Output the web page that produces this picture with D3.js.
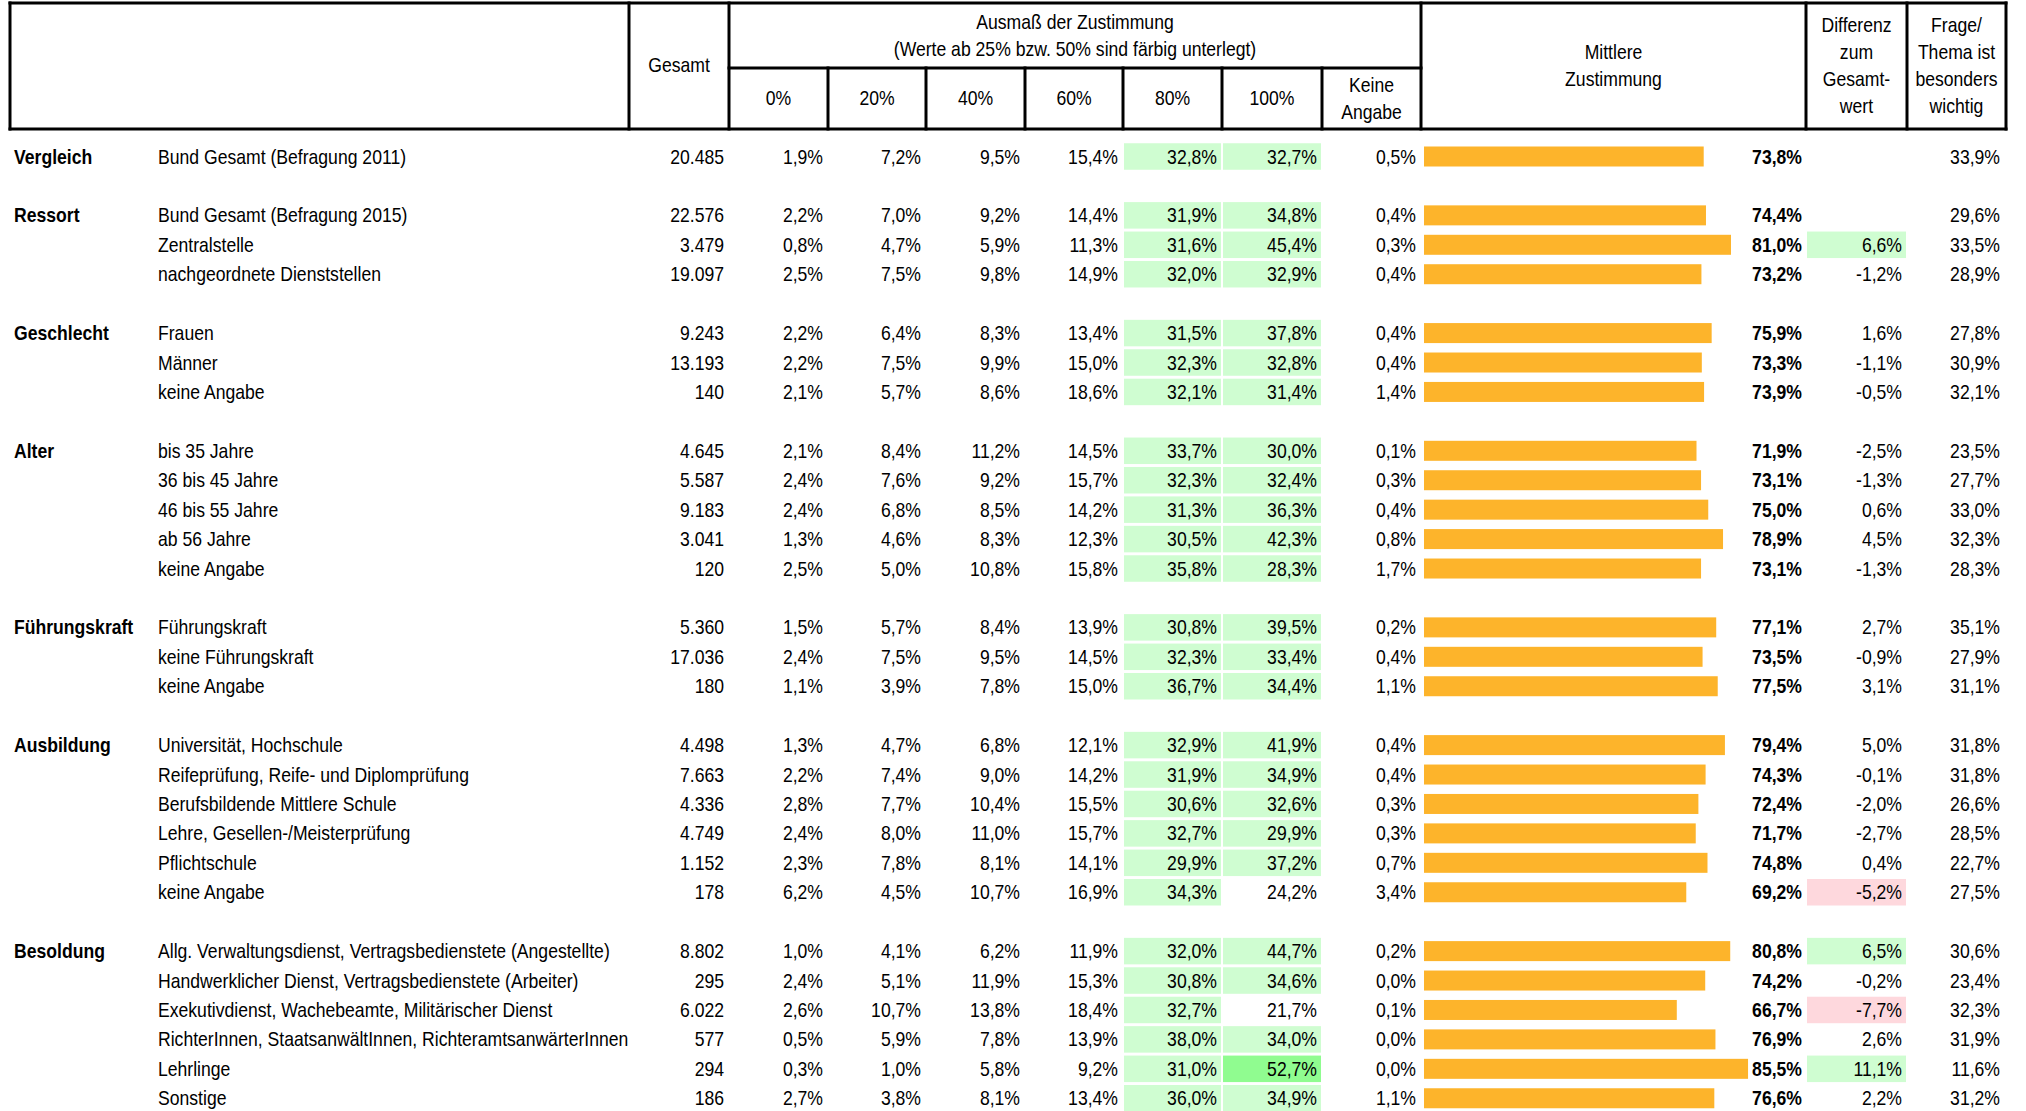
<!DOCTYPE html>
<html>
<head>
<meta charset="utf-8">
<script src="https://cdn.jsdelivr.net/npm/d3@7"></script>
<style>
  body { margin: 0; background: #fff; }
  svg text { font-family: "Liberation Sans", Arial, sans-serif; font-size: 20px; fill: #000; }
</style>
</head>
<body>
<svg id="table"></svg>
<script>
// table data, one entry per row (blank rows between groups are added below)
const groupNames = ["Vergleich", "Ressort", "Geschlecht", "Alter", "Führungskraft", "Ausbildung", "Besoldung"];
const groupSizes = [1, 3, 3, 5, 3, 6, 6];
const rowLabels = [
    "Bund Gesamt (Befragung 2011)",
    "Bund Gesamt (Befragung 2015)", "Zentralstelle", "nachgeordnete Dienststellen",
    "Frauen", "Männer", "keine Angabe",
    "bis 35 Jahre", "36 bis 45 Jahre", "46 bis 55 Jahre", "ab 56 Jahre", "keine Angabe",
    "Führungskraft", "keine Führungskraft", "keine Angabe",
    "Universität, Hochschule", "Reifeprüfung, Reife- und Diplomprüfung", "Berufsbildende Mittlere Schule",
    "Lehre, Gesellen-/Meisterprüfung", "Pflichtschule", "keine Angabe",
    "Allg. Verwaltungsdienst, Vertragsbedienstete (Angestellte)", "Handwerklicher Dienst, Vertragsbedienstete (Arbeiter)",
    "Exekutivdienst, Wachebeamte, Militärischer Dienst", "RichterInnen, StaatsanwältInnen, RichteramtsanwärterInnen",
    "Lehrlinge", "Sonstige"
];
const gesamt = [20485, 22576, 3479, 19097, 9243, 13193, 140, 4645, 5587, 9183, 3041, 120, 5360, 17036, 180,
    4498, 7663, 4336, 4749, 1152, 178, 8802, 295, 6022, 577, 294, 186];
const share0 = [1.9, 2.2, 0.8, 2.5, 2.2, 2.2, 2.1, 2.1, 2.4, 2.4, 1.3, 2.5, 1.5, 2.4, 1.1, 1.3, 2.2, 2.8, 2.4, 2.3, 6.2, 1.0, 2.4, 2.6, 0.5, 0.3, 2.7];
const share20 = [7.2, 7.0, 4.7, 7.5, 6.4, 7.5, 5.7, 8.4, 7.6, 6.8, 4.6, 5.0, 5.7, 7.5, 3.9, 4.7, 7.4, 7.7, 8.0, 7.8, 4.5, 4.1, 5.1, 10.7, 5.9, 1.0, 3.8];
const share40 = [9.5, 9.2, 5.9, 9.8, 8.3, 9.9, 8.6, 11.2, 9.2, 8.5, 8.3, 10.8, 8.4, 9.5, 7.8, 6.8, 9.0, 10.4, 11.0, 8.1, 10.7, 6.2, 11.9, 13.8, 7.8, 5.8, 8.1];
const share60 = [15.4, 14.4, 11.3, 14.9, 13.4, 15.0, 18.6, 14.5, 15.7, 14.2, 12.3, 15.8, 13.9, 14.5, 15.0, 12.1, 14.2, 15.5, 15.7, 14.1, 16.9, 11.9, 15.3, 18.4, 13.9, 9.2, 13.4];
const share80 = [32.8, 31.9, 31.6, 32.0, 31.5, 32.3, 32.1, 33.7, 32.3, 31.3, 30.5, 35.8, 30.8, 32.3, 36.7, 32.9, 31.9, 30.6, 32.7, 29.9, 34.3, 32.0, 30.8, 32.7, 38.0, 31.0, 36.0];
const share100 = [32.7, 34.8, 45.4, 32.9, 37.8, 32.8, 31.4, 30.0, 32.4, 36.3, 42.3, 28.3, 39.5, 33.4, 34.4, 41.9, 34.9, 32.6, 29.9, 37.2, 24.2, 44.7, 34.6, 21.7, 34.0, 52.7, 34.9];
const keineAngabe = [0.5, 0.4, 0.3, 0.4, 0.4, 0.4, 1.4, 0.1, 0.3, 0.4, 0.8, 1.7, 0.2, 0.4, 1.1, 0.4, 0.4, 0.3, 0.3, 0.7, 3.4, 0.2, 0.0, 0.1, 0.0, 0.0, 1.1];
const mittlere = [73.8, 74.4, 81.0, 73.2, 75.9, 73.3, 73.9, 71.9, 73.1, 75.0, 78.9, 73.1, 77.1, 73.5, 77.5, 79.4, 74.3, 72.4, 71.7, 74.8, 69.2, 80.8, 74.2, 66.7, 76.9, 85.5, 76.6];
const differenz = [null, null, 6.6, -1.2, 1.6, -1.1, -0.5, -2.5, -1.3, 0.6, 4.5, -1.3, 2.7, -0.9, 3.1, 5.0, -0.1, -2.0, -2.7, 0.4, -5.2, 6.5, -0.2, -7.7, 2.6, 11.1, 2.2];
const wichtig = [33.9, 29.6, 33.5, 28.9, 27.8, 30.9, 32.1, 23.5, 27.7, 33.0, 32.3, 28.3, 35.1, 27.9, 31.1, 31.8, 31.8, 26.6, 28.5, 22.7, 27.5, 30.6, 23.4, 32.3, 31.9, 11.6, 31.2];
const shareHeaders = ["0%", "20%", "40%", "60%", "80%", "100%"];

var width = 2026, height = 1111;
var sx = 0.88; // text is drawn a bit condensed, like the narrow spreadsheet font
var svg = d3.select("#table").attr("width", width).attr("height", height);

var de = d3.formatLocale({decimal: ",", thousands: ".", grouping: [3], currency: ["", "€"], minus: "-"});
var fmtInt = de.format(",d");
var fmtPct = function(v){ return de.format(".1f")(v) + "%"; };

// column borders
var edges = [10, 629, 729, 828, 926, 1025, 1123, 1222, 1322, 1421, 1806, 1907, 2006];
var headTop = 3, headMid = 68, headBottom = 129;

// build row slots: each group followed by an empty row
var rows = [];
var slot = 0, r = 0;
groupNames.forEach(function(g, gi){
    for (var i = 0; i < groupSizes[gi]; i++) {
        rows.push({
            slot: slot, group: i == 0 ? g : "", label: rowLabels[r], n: gesamt[r],
            shares: [share0[r], share20[r], share40[r], share60[r], share80[r], share100[r], keineAngabe[r]],
            mean: mittlere[r], diff: differenz[r], imp: wichtig[r]
        });
        slot++; r++;
    }
    slot++;
});

var y = d3.scaleLinear().domain([0, 32]).range([156.5, 156.5 + 32 * 29.43]);
var xBar = d3.scaleLinear().domain([0, 100]).range([1424, 1803]);
var cellH = 26.5;

// put a text at x in condensed form
function condensed(sel, x){
    return sel.attr("x", x / sx).attr("transform", "scale(" + sx + ",1)");
}

// ---- header ----
var head = svg.append("g");
var lines = [
    [edges[0], headTop, edges[12], headTop],
    [edges[0], headBottom, edges[12], headBottom],
    [edges[2], headMid, edges[9], headMid]
];
[0, 1, 2, 9, 10, 11, 12].forEach(function(i){ lines.push([edges[i], headTop, edges[i], headBottom]); });
[3, 4, 5, 6, 7, 8].forEach(function(i){ lines.push([edges[i], headMid, edges[i], headBottom]); });
head.selectAll("line").data(lines).enter().append("line")
    .attr("x1", d => d[0]).attr("y1", d => d[1]).attr("x2", d => d[2]).attr("y2", d => d[3])
    .attr("stroke", "#000").attr("stroke-width", 3).attr("stroke-linecap", "square");

function headText(lines, cx, cy, pitch){
    pitch = pitch || 27;
    var t = head.append("text").attr("text-anchor", "middle").attr("transform", "scale(" + sx + ",1)");
    var y0 = cy - (lines.length - 1) * pitch / 2;
    lines.forEach(function(s, i){
        t.append("tspan").attr("x", cx / sx).attr("y", y0 + i * pitch).attr("dy", "0.35em").text(s);
    });
}
headText(["Gesamt"], (edges[1] + edges[2]) / 2, 65);
headText(["Ausmaß der Zustimmung", "(Werte ab 25% bzw. 50% sind färbig unterlegt)"], (edges[2] + edges[9]) / 2, 35.5);
shareHeaders.forEach(function(s, i){
    headText([s], (edges[2 + i] + edges[3 + i]) / 2, 98.5);
});
headText(["Keine", "Angabe"], (edges[8] + edges[9]) / 2, 98.5);
headText(["Mittlere", "Zustimmung"], (edges[9] + edges[10]) / 2, 66);
headText(["Differenz", "zum", "Gesamt-", "wert"], (edges[10] + edges[11]) / 2, 66);
headText(["Frage/", "Thema ist", "besonders", "wichtig"], (edges[11] + edges[12]) / 2, 66);

// ---- body ----
var body = svg.append("g");

// highlighted cells
var cells = [];
rows.forEach(function(d){
    d.shares.slice(0, 6).forEach(function(v, i){
        if (v >= 25) cells.push({slot: d.slot, col: 2 + i, fill: v >= 50 ? "#90FC90" : "#CFFDD1"});
    });
    if (d.diff != null && d.diff > 5) cells.push({slot: d.slot, col: 10, fill: "#CFFDD1"});
    if (d.diff != null && d.diff < -5) cells.push({slot: d.slot, col: 10, fill: "#FED8DD"});
});
body.selectAll("rect.cell").data(cells).enter().append("rect")
    .attr("class", "cell")
    .attr("x", d => edges[d.col] + 1)
    .attr("width", d => edges[d.col + 1] - edges[d.col] - 2)
    .attr("y", d => y(d.slot) - cellH / 2)
    .attr("height", cellH)
    .attr("fill", d => d.fill);

// mean bars
body.selectAll("rect.bar").data(rows).enter().append("rect")
    .attr("class", "bar")
    .attr("x", xBar(0))
    .attr("y", d => y(d.slot) - 10)
    .attr("width", d => xBar(d.mean) - xBar(0))
    .attr("height", 20)
    .attr("fill", "#FDB42B");

var rowG = body.selectAll("g.row").data(rows).enter().append("g")
    .attr("class", "row")
    .attr("transform", d => "translate(0," + y(d.slot) + ")");

condensed(rowG.append("text"), 14).attr("dy", "0.35em")
    .attr("font-weight", "bold").text(d => d.group);
condensed(rowG.append("text"), 158).attr("dy", "0.35em").text(d => d.label);
condensed(rowG.append("text"), edges[2] - 5).attr("dy", "0.35em")
    .attr("text-anchor", "end").text(d => fmtInt(d.n));
for (let i = 0; i < 7; i++) {
    condensed(rowG.append("text"), edges[3 + i] - 5).attr("dy", "0.35em")
        .attr("text-anchor", "end").text(d => fmtPct(d.shares[i]));
}
condensed(rowG.append("text"), 1802).attr("dy", "0.35em")
    .attr("text-anchor", "end").attr("font-weight", "bold").text(d => fmtPct(d.mean));
condensed(rowG.append("text"), edges[11] - 5).attr("dy", "0.35em")
    .attr("text-anchor", "end").text(d => d.diff == null ? "" : fmtPct(d.diff));
condensed(rowG.append("text"), edges[12] - 6).attr("dy", "0.35em")
    .attr("text-anchor", "end").text(d => fmtPct(d.imp));
</script>
</body>
</html>
